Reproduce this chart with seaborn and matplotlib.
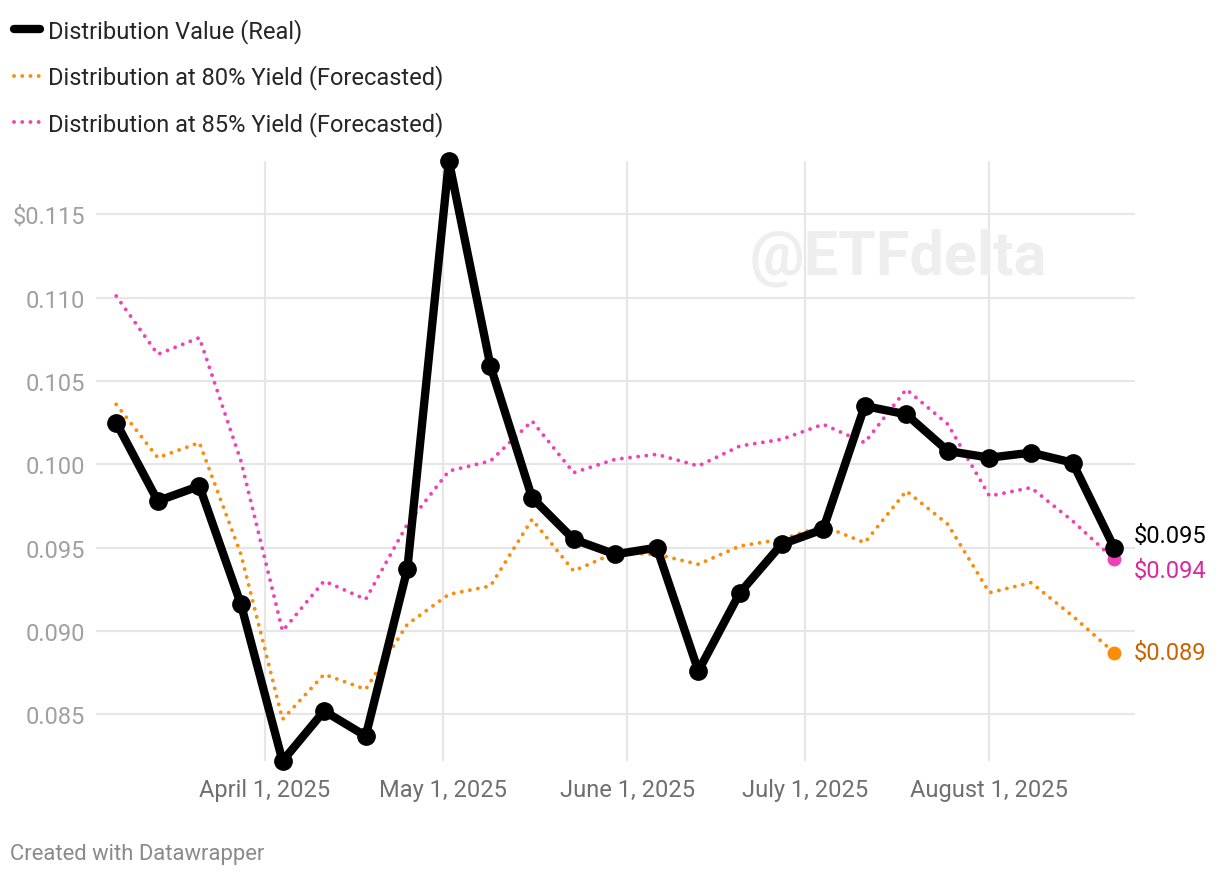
import pandas as pd
import matplotlib.pyplot as plt
import seaborn as sns

# weekly distribution dates (Fridays)
dates = pd.date_range('2025-03-07', '2025-08-22', freq='7D')

real = [0.1025, 0.0978, 0.0987, 0.0916, 0.0822, 0.0852, 0.0837, 0.0937, 0.1182,
        0.1059, 0.0980, 0.0955, 0.0946, 0.0950, 0.0876, 0.0923, 0.0952, 0.0961,
        0.1035, 0.1030, 0.1008, 0.1004, 0.1007, 0.1001, 0.0950]
yield80 = [0.1036, 0.1004, 0.1013, 0.0946, 0.0847, 0.0874, 0.0865, 0.0904, 0.0922,
           0.0927, 0.0967, 0.0936, 0.0947, 0.0946, 0.0940, 0.0951, 0.0955, 0.0963,
           0.0953, 0.0984, 0.0964, 0.0923, 0.0929, 0.0909, 0.0887]
yield85 = [0.1101, 0.1066, 0.1076, 0.1002, 0.0900, 0.0930, 0.0919, 0.0964, 0.0996,
           0.1002, 0.1026, 0.0995, 0.1003, 0.1006, 0.0999, 0.1011, 0.1015, 0.1024,
           0.1013, 0.1045, 0.1024, 0.0981, 0.0986, 0.0966, 0.0943]

month_ticks = pd.to_datetime(['2025-04-01', '2025-05-01', '2025-06-01', '2025-07-01', '2025-08-01'])
month_labels = ['April 1, 2025', 'May 1, 2025', 'June 1, 2025', 'July 1, 2025', 'August 1, 2025']
y_ticks = [0.085, 0.090, 0.095, 0.100, 0.105, 0.110, 0.115]
y_labels = ['0.085', '0.090', '0.095', '0.100', '0.105', '0.110', '$0.115']

df = pd.DataFrame({'date': dates, 'real': real, 'y80': yield80, 'y85': yield85})

ORANGE = '#fa8c0a'
PINK = '#ef42b6'
DOTS = (0, (0.01, 2.1))

sns.set_style('white')
plt.rcParams['font.family'] = ['Roboto', 'DejaVu Sans']

fig = plt.figure(figsize=(12.2, 8.78), dpi=100)
ax = fig.add_axes([96 / 1220, 1 - 762 / 878, (1135 - 96) / 1220, 600 / 878])

# gridlines
for t in month_ticks:
    ax.axvline(t, color='#e6e6e6', lw=1.5, zorder=0)
for v in y_ticks:
    ax.axhline(v, color='#e6e6e6', lw=1.5, zorder=0)

# watermark
ax.text(0.772, 0.84, '@ETFdelta', transform=ax.transAxes, fontsize=44, fontweight='bold',
        color='#eeeeee', ha='center', va='center', zorder=1)

sns.lineplot(data=df, x='date', y='y85', ax=ax, color=PINK, lw=2.8, linestyle=DOTS,
             dash_capstyle='round', label='Distribution at 85% Yield (Forecasted)', zorder=2)
sns.lineplot(data=df, x='date', y='y80', ax=ax, color=ORANGE, lw=2.8, linestyle=DOTS,
             dash_capstyle='round', label='Distribution at 80% Yield (Forecasted)', zorder=2)
sns.lineplot(data=df, x='date', y='real', ax=ax, color='black', lw=6, marker='o', markersize=13.5,
             markeredgewidth=0, label='Distribution Value (Real)', zorder=3, clip_on=False)

# end markers
last = df.iloc[-1]
ax.plot([last['date']], [last['y85']], 'o', color=PINK, ms=9, zorder=2.5, clip_on=False)
ax.plot([last['date']], [last['y80']], 'o', color=ORANGE, ms=9, zorder=2.5, clip_on=False)

# end labels
off = pd.Timedelta(days=3.3)
ax.text(last['date'] + off, last['real'] + 0.00075, '$%.3f' % last['real'], color='black',
        fontsize=17, va='center', ha='left')
ax.text(last['date'] + off, last['y85'] - 0.00065, '$%.3f' % last['y85'], color='#d8289f',
        fontsize=17, va='center', ha='left')
ax.text(last['date'] + off, last['y80'], '$%.3f' % last['y80'], color='#c86400',
        fontsize=17, va='center', ha='left')

ax.set_xlim(pd.Timestamp('2025-03-07') - pd.Timedelta(days=3.4),
            pd.Timestamp('2025-08-22') + pd.Timedelta(days=3.5))
ax.set_ylim(0.0822, 0.1182)
ax.set_xticks(month_ticks)
ax.set_xticklabels(month_labels)
ax.set_yticks(y_ticks)
ax.set_yticklabels(y_labels)
ax.tick_params(axis='x', length=0, pad=12, labelsize=17, labelcolor='#6f6f6f')
ax.tick_params(axis='y', length=0, pad=8, labelsize=17, labelcolor='#a0a0a0')
ax.set_xlabel('')
ax.set_ylabel('')
for s in ax.spines.values():
    s.set_visible(False)
ax.patch.set_alpha(0)

# legend at top-left
handles, labels = ax.get_legend_handles_labels()
order = [2, 1, 0]
leg = fig.legend([handles[i] for i in order], [labels[i] for i in order],
                 loc='upper left', bbox_to_anchor=(14 / 1220, 0.978), frameon=False, fontsize=17,
                 handlelength=1.1, handletextpad=0.34, labelspacing=0.9, borderaxespad=0,
                 borderpad=0)
for line in leg.get_lines():
    line.set_marker('')
    line.set_solid_capstyle('round')
    line.set_dash_capstyle('round')
ax.get_legend().remove()

fig.text(10 / 1220, 1 - 855 / 878, 'Created with Datawrapper', fontsize=15.8, color='#8a8a8a',
         va='center', ha='left')

fig.savefig('out.png', dpi=100)
